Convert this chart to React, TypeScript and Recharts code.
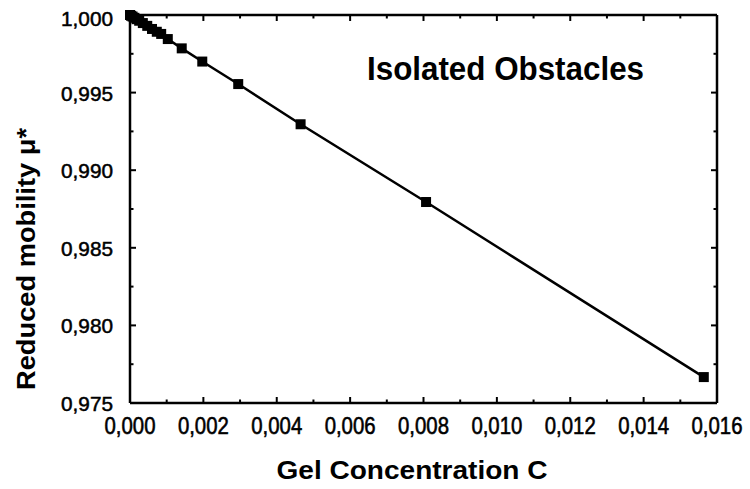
import React from 'react';
import { LineChart, Line, XAxis, YAxis, ReferenceLine } from 'recharts';

const concentration = [0, 0.00003, 0.00007, 0.00012, 0.00018, 0.00025, 0.00035, 0.00047, 0.0006, 0.00073, 0.00085, 0.00103, 0.00141, 0.00197, 0.00295, 0.00465, 0.00807, 0.01564];
const mobility = [1.0, 0.99995, 0.9999, 0.99982, 0.99973, 0.99963, 0.99948, 0.9993, 0.9991, 0.99892, 0.99878, 0.99845, 0.99785, 0.997, 0.99555, 0.99296, 0.98795, 0.97667];

const xTicks = [0, 0.001, 0.002, 0.003, 0.004, 0.005, 0.006, 0.007, 0.008, 0.009, 0.01, 0.011, 0.012, 0.013, 0.014, 0.015, 0.016];
const yTicks = [0.975, 0.9775, 0.98, 0.9825, 0.985, 0.9875, 0.99, 0.9925, 0.995, 0.9975, 1.0];
const xMajor = [0, 0.002, 0.004, 0.006, 0.008, 0.01, 0.012, 0.014, 0.016];
const yMajor = [0.975, 0.98, 0.985, 0.99, 0.995, 1.0];

const title = 'Isolated Obstacles';
const xTitle = 'Gel Concentration C';
const yTitle = 'Reduced mobility \u03bc*';

const data = concentration.map((c, i) => ({ c, mu: mobility[i] }));

const FONT = '"Liberation Sans", Arial, Helvetica, sans-serif';
const fmt = (v: number) => v.toFixed(3).replace('.', ',');
const isMajorX = (v: number) => Math.round(v * 1000) % 2 === 0;
const isMajorY = (v: number) => Math.round(v * 10000) % 50 === 0;

const BottomLabel = (props: any) => {
  const x = Number(props.x);
  const y = Number(props.y);
  return (
    <text x={x} y={y + 31} textAnchor="middle" fontFamily={FONT} fontSize={24} fill="#000" stroke="#000" strokeWidth={0.6} textLength={51} lengthAdjust="spacingAndGlyphs">
      {fmt(props.payload.value)}
    </text>
  );
};

const LeftLabel = (props: any) => {
  const x = Number(props.x);
  const y = Number(props.y);
  const v = props.payload.value;
  const isTop = Math.abs(v - 1) < 1e-9;
  return (
    <text x={x - 17} y={y + (isTop ? 11 : 8)} textAnchor="end" fontFamily={FONT} fontSize={21} fill="#000" stroke="#000" strokeWidth={0.5} textLength={52} lengthAdjust="spacingAndGlyphs">
      {fmt(v)}
    </text>
  );
};

const makeXTick = (v: number) => (p: any) => {
  const x = Number(p.x1);
  const top = Math.min(Number(p.y1), Number(p.y2));
  const bottom = Math.max(Number(p.y1), Number(p.y2));
  const major = isMajorX(v);
  return (
    <g>
      <path d={`M${x},${bottom}V${bottom - (major ? 6 : 3.5)}`} stroke="#000" strokeWidth={2} fill="none" />
      <path d={`M${x},${top}V${top + (major ? 6 : 3.5)}`} stroke="#000" strokeWidth={2} fill="none" />
    </g>
  );
};

const makeYTick = (v: number) => (p: any) => {
  const y = Number(p.y1);
  const left = Math.min(Number(p.x1), Number(p.x2));
  const right = Math.max(Number(p.x1), Number(p.x2));
  const major = isMajorY(v);
  return (
    <g>
      <path d={`M${left},${y}H${left + (major ? 6 : 3.5)}`} stroke="#000" strokeWidth={2} fill="none" />
      <path d={`M${right},${y}H${right - (major ? 6 : 3.5)}`} stroke="#000" strokeWidth={2} fill="none" />
    </g>
  );
};

const SquareDot = (props: any) => {
  const { cx, cy, index } = props;
  return <rect key={`d${index}`} x={cx - 5} y={cy - 5} width={10} height={10} fill="#000" />;
};

export default function App() {
  return (
    <div style={{ position: 'absolute', left: 0, top: 0, width: 750, height: 489, background: '#fff' }}>
      <LineChart width={750} height={489} data={data} margin={{ top: 15, right: 33, bottom: 0, left: 0 }}>
        <XAxis
          dataKey="c"
          type="number"
          domain={[0, 0.016]}
          ticks={xMajor}
          interval={0}
          height={86}
          tickSize={0}
          tickMargin={0}
          tickLine={false}
          tick={BottomLabel}
          axisLine={{ stroke: '#000', strokeWidth: 2.5 }}
        />
        <YAxis
          type="number"
          domain={[0.975, 1.0]}
          ticks={yMajor}
          interval={0}
          width={130}
          tickSize={0}
          tickMargin={0}
          tickLine={false}
          tick={LeftLabel}
          axisLine={{ stroke: '#000', strokeWidth: 2.5 }}
        />
        <ReferenceLine x={0.016} stroke="#000" strokeWidth={2.5} />
        <ReferenceLine y={1.0} stroke="#000" strokeWidth={2.5} />
        {xTicks.map((v) => (
          <ReferenceLine key={`xt${v}`} x={v} stroke="none" shape={makeXTick(v)} />
        ))}
        {yTicks.map((v) => (
          <ReferenceLine key={`yt${v}`} y={v} stroke="none" shape={makeYTick(v)} />
        ))}
        <Line
          dataKey="mu"
          type="linear"
          stroke="#000"
          strokeWidth={2.5}
          dot={SquareDot}
          activeDot={false}
          isAnimationActive={false}
        />
      </LineChart>
      <svg width={750} height={489} style={{ position: 'absolute', left: 0, top: 0, pointerEvents: 'none' }}>
        <text x={367} y={80} fontFamily={FONT} fontSize={33} fontWeight="bold" fill="#000" textLength={277} lengthAdjust="spacingAndGlyphs">
          {title}
        </text>
        <text x={412} y={479} textAnchor="middle" fontFamily={FONT} fontSize={25} fontWeight="bold" fill="#000" textLength={271} lengthAdjust="spacingAndGlyphs">
          {xTitle}
        </text>
        <text transform="translate(35,259) rotate(-90)" x={0} y={0} textAnchor="middle" fontFamily={FONT} fontSize={26} fontWeight="bold" fill="#000" textLength={262} lengthAdjust="spacingAndGlyphs">
          {yTitle}
        </text>
      </svg>
    </div>
  );
}
